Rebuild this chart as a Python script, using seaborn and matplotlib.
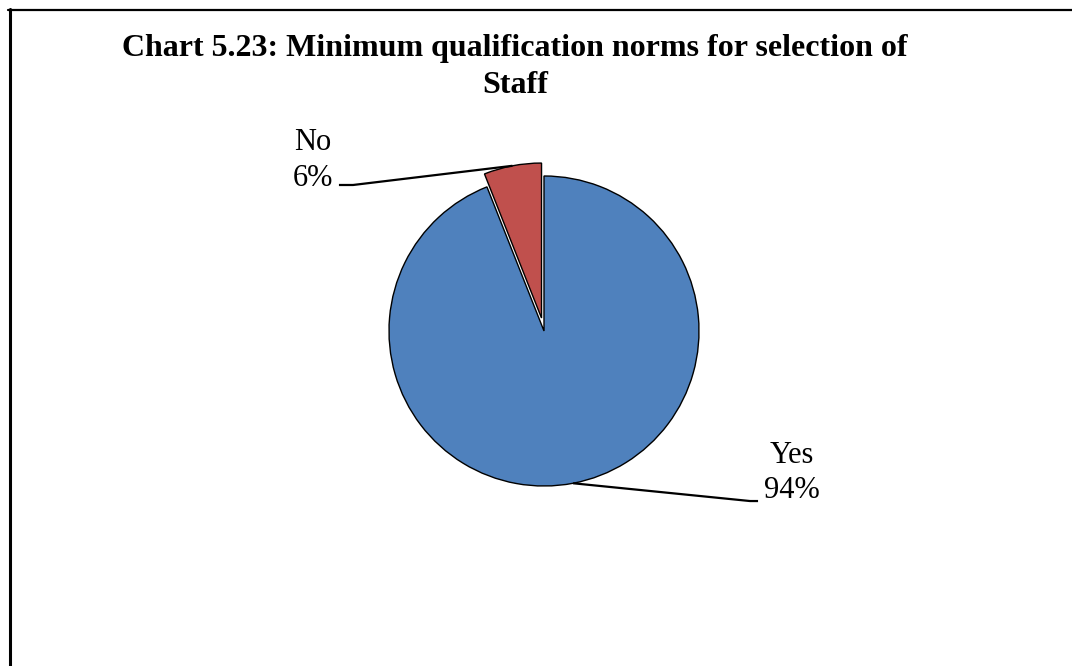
import numpy as np
import matplotlib
matplotlib.use("Agg")
import matplotlib.pyplot as plt
from matplotlib.lines import Line2D
import seaborn as sns

# Survey answers and their shares (%)
categories = ["Yes", "No"]
shares = [94, 6]
colors = ["#4F81BD", "#C0504D"]
title = "Chart 5.23: Minimum qualification norms for selection of\nStaff"

sns.set_theme(style="white")
plt.rcParams["font.family"] = ["Liberation Serif", "DejaVu Serif"]

W, H, DPI = 1072, 666, 100
fig = plt.figure(figsize=(W / DPI, H / DPI), dpi=DPI)

# Axes over the whole figure; one data unit = pie radius (155 px)
R_PX = 155.0
CX, CY = 544.0, 331.0
ax = fig.add_axes([0, 0, 1, 1])

explode = [0.0, 0.085]
wedges, _ = ax.pie(
    shares, colors=colors, startangle=90, counterclock=False,
    explode=explode, radius=1.0, center=(0, 0),
    wedgeprops=dict(edgecolor="black", linewidth=1.0),
)
ax.set_xlim(-CX / R_PX, (W - CX) / R_PX)
ax.set_ylim((CY - H) / R_PX, CY / R_PX)
ax.set_aspect("equal")
ax.axis("off")

# Label positions (data units) and leader-line elbows
label_pos = {"Yes": (1.60, -0.915), "No": (-1.490, 1.10)}
elbow = {"Yes": [(1.329, -1.097), (1.381, -1.097)],
         "No": [(-1.232, 0.942), (-1.323, 0.942)]}

for w, cat, val in zip(wedges, categories, shares):
    mid = np.deg2rad((w.theta1 + w.theta2) / 2)
    cx, cy = w.center
    start = (cx + w.r * np.cos(mid), cy + w.r * np.sin(mid))
    pts = [start] + elbow[cat]
    ax.plot([p[0] for p in pts], [p[1] for p in pts], color="black", lw=1.6,
            solid_capstyle="butt")
    lx, ly = label_pos[cat]
    ax.text(lx, ly, f"{cat}\n{val}%", ha="center", va="center",
            fontsize=22, color="black", linespacing=1.28)

fig.text(515 / W, 1 - 34 / H, title, ha="center", va="top",
         fontsize=23, fontweight="bold", color="black", linespacing=1.36)

# Frame lines along the top and left edges
fig.add_artist(Line2D([8 / W, 1.0], [1 - 10 / H, 1 - 10 / H],
                      transform=fig.transFigure, color="black", lw=1.6))
fig.add_artist(Line2D([9.5 / W, 9.5 / W], [0.0, 1 - 9 / H],
                      transform=fig.transFigure, color="black", lw=2.2))

fig.savefig("out.png", dpi=DPI, facecolor="white")
